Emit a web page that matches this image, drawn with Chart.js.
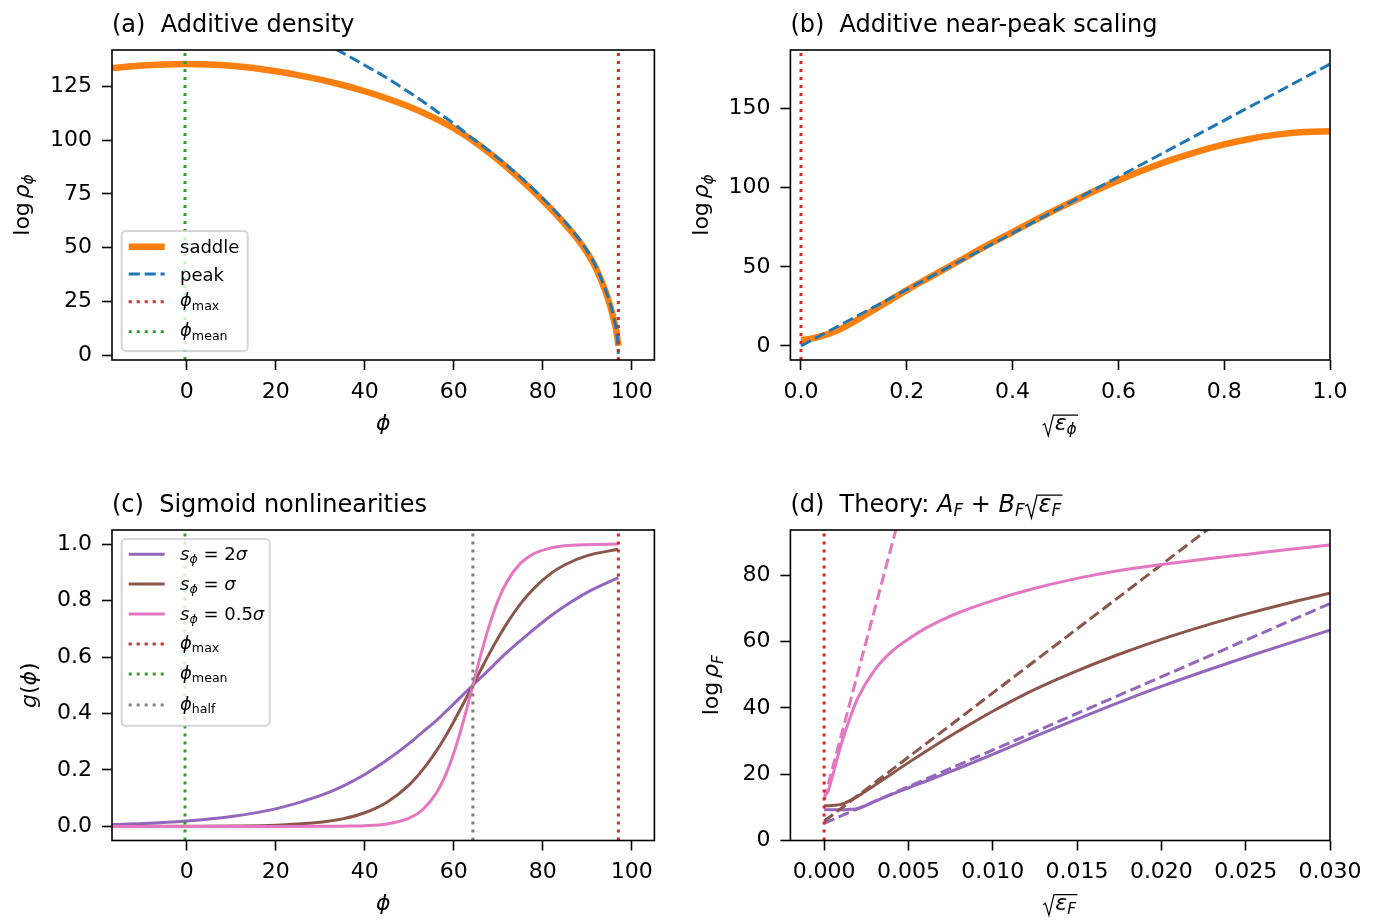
<!DOCTYPE html>
<html>
<head>
<meta charset="utf-8">
<title>Additive density and sigmoid theory</title>
<script src="https://cdn.jsdelivr.net/npm/chart.js@4.4.0/dist/chart.umd.min.js"></script>
<style>
  html, body { margin: 0; padding: 0; background: #ffffff; }
  #fig { position: relative; width: 1375px; height: 920px; background: #ffffff; }
  #fig canvas { position: absolute; }
</style>
</head>
<body>
<div id="fig">
  <canvas id="panelA" width="687" height="460" style="left:0px;top:0px;"></canvas>
  <canvas id="panelB" width="688" height="460" style="left:687px;top:0px;"></canvas>
  <canvas id="panelC" width="687" height="460" style="left:0px;top:460px;"></canvas>
  <canvas id="panelD" width="688" height="460" style="left:687px;top:460px;"></canvas>
</div>
<script>
// ---------------- reference positions ----------------
const PHI_MAX = 97.0;
const PHI_MEAN = -0.4;
const PHI_HALF = 64.3;

// ---------------- (a) additive density vs phi ----------------
const phiSaddle = [-16.8, -10, -5, 0, 5, 10, 15, 20, 25, 30, 35, 40, 45, 50, 55, 60, 65, 70, 75, 80, 85, 88, 90, 92, 94, 95, 96, 96.6, 97];
const logRhoSaddle = [133.6, 134.8, 135.3, 135.5, 135.3, 134.7, 133.6, 132.1, 130.3, 128.2, 125.7, 122.8, 119.4, 115.6, 111.0, 105.6, 98.8, 90.8, 81.8, 72.0, 61.0, 53.5, 47.6, 40.2, 30.2, 24.0, 16.2, 10.5, 4.3];
const phiPeak = [33.5, 36, 40, 44, 48, 52, 56, 60, 64, 68, 72, 76, 80, 84, 87, 90, 92, 94, 95, 96, 96.5, 96.8, 97];
const logRhoPeak = [142.4, 139.6, 134.9, 130.2, 125.0, 119.5, 113.7, 107.7, 101.2, 95.0, 88.2, 80.9, 73.0, 64.3, 57.1, 48.5, 41.0, 31.0, 25.0, 17.2, 12.2, 7.6, 0.5];

// ---------------- (b) near-peak scaling vs sqrt(eps_phi) ----------------
const sqrtEpsPhi = [0, 0.02, 0.04, 0.06, 0.08, 0.10, 0.15, 0.20, 0.25, 0.30, 0.35, 0.40, 0.45, 0.50, 0.55, 0.60, 0.65, 0.70, 0.75, 0.80, 0.85, 0.90, 0.95, 1.00];
const logRhoSaddleEps = [3.9, 4.6, 6.3, 8.6, 11.6, 15.3, 25.2, 35.3, 44.6, 53.9, 63.2, 72.0, 80.8, 89.2, 97.2, 104.6, 111.5, 117.6, 122.9, 127.4, 131.0, 133.6, 135.2, 135.7];
const sqrtEpsPeak = [0, 1.0];
const logRhoPeakEps = [0, 178.2];

// ---------------- (c) sigmoid nonlinearities ----------------
const phiSigmoid = [-16.8, -10, 0, 10, 20, 30, 35, 40, 45, 50, 53, 56, 58, 60, 62, 64.3, 66, 68, 70, 72, 75, 78, 82, 85, 90, 97];
const gWide  = [0.007, 0.010, 0.019, 0.035, 0.062, 0.109, 0.142, 0.184, 0.235, 0.294, 0.334, 0.374, 0.404, 0.434, 0.465, 0.500, 0.526, 0.556, 0.587, 0.617, 0.658, 0.698, 0.748, 0.781, 0.829, 0.881];
const gMid   = [0.000, 0.0001, 0.0004, 0.0013, 0.0043, 0.0146, 0.0267, 0.0483, 0.0856, 0.147, 0.200, 0.265, 0.315, 0.371, 0.430, 0.500, 0.552, 0.612, 0.668, 0.720, 0.788, 0.843, 0.898, 0.927, 0.959, 0.982];
const gSharp = [0.000, 0.000, 0.000, 0.000, 0.000, 0.0002, 0.0008, 0.0026, 0.0088, 0.029, 0.059, 0.116, 0.176, 0.259, 0.363, 0.500, 0.603, 0.712, 0.802, 0.868, 0.932, 0.966, 0.987, 0.994, 0.998, 1.000];

// ---------------- (d) theory vs sqrt(eps_F) ----------------
const sqrtEpsF = [0, 0.0002, 0.0005, 0.001, 0.0015, 0.002, 0.003, 0.004, 0.005, 0.006, 0.007, 0.008, 0.010, 0.0125, 0.015, 0.0175, 0.020, 0.0225, 0.025, 0.0275, 0.030];
const logRhoFWide  = [9.3, 9.3, 9.3, 9.3, 9.4, 9.6, 11.8, 13.9, 15.9, 17.8, 19.8, 21.8, 26.0, 31.4, 36.6, 41.7, 46.5, 51.0, 55.3, 59.4, 63.5];
const logRhoFMid   = [10.5, 10.5, 10.6, 10.9, 12.0, 13.4, 16.7, 20.1, 23.5, 26.8, 30.0, 33.1, 39.0, 45.6, 51.2, 56.2, 60.7, 64.7, 68.3, 71.6, 74.6];
const logRhoFSharp = [13.6, 14.5, 19.5, 28.8, 36.5, 43.0, 51.5, 57.0, 60.8, 64.0, 66.6, 68.8, 72.4, 76.1, 79.1, 81.5, 83.3, 84.9, 86.3, 87.8, 89.2];
const theoryWideX  = [0, 0.030];
const theoryWideY  = [5.2, 71.5];
const theoryMidX   = [0, 0.024];
const theoryMidY   = [5.8, 98.7];
const theorySharpX = [0, 0.0045];
const theorySharpY = [12.3, 98.5];

// ---------------- tick values and labels ----------------
const TICKS_PHI = [0, 20, 40, 60, 80, 100];
const LABELS_PHI = ['0', '20', '40', '60', '80', '100'];
const TICKS_A_Y = [0, 25, 50, 75, 100, 125];
const LABELS_A_Y = ['0', '25', '50', '75', '100', '125'];
const TICKS_B_X = [0, 0.2, 0.4, 0.6, 0.8, 1.0];
const LABELS_B_X = ['0.0', '0.2', '0.4', '0.6', '0.8', '1.0'];
const TICKS_B_Y = [0, 50, 100, 150];
const LABELS_B_Y = ['0', '50', '100', '150'];
const TICKS_C_Y = [0, 0.2, 0.4, 0.6, 0.8, 1.0];
const LABELS_C_Y = ['0.0', '0.2', '0.4', '0.6', '0.8', '1.0'];
const TICKS_D_X = [0, 0.005, 0.010, 0.015, 0.020, 0.025, 0.030];
const LABELS_D_X = ['0.000', '0.005', '0.010', '0.015', '0.020', '0.025', '0.030'];
const TICKS_D_Y = [0, 20, 40, 60, 80];
const LABELS_D_Y = ['0', '20', '40', '60', '80'];

// ---------------- styling ----------------
const FAMILY = '"DejaVu Sans", "Liberation Sans", sans-serif';
const C_ORANGE = '#ff7f0e', C_BLUE = '#1f77b4', C_RED = '#d62728', C_GREEN = '#2ca02c';
const C_PURPLE = '#9467bd', C_BROWN = '#8c564b', C_PINK = '#e377c2', C_GREY = '#7f7f7f';
const DASHED = [11.1, 4.8];
const DOTTED = [3, 5];

// ---------------- mixed-style text (roman / italic / subscript / radical) ----------------
function runText(c, segs, size, draw, x, y) {
  let cx = x;
  for (const s of segs) {
    if (s.sp !== undefined) { cx += s.sp * size; continue; }
    if (s.sqrt) {
      const innerW = runText(c, s.sqrt, size, false, 0, 0);
      const rw = 0.58 * size;
      if (draw) {
        const top = y - 0.68 * size, bot = y + 0.27 * size;
        c.save();
        c.beginPath();
        c.moveTo(cx + 0.03 * size, y - 0.22 * size);
        c.lineTo(cx + 0.13 * size, y - 0.29 * size);
        c.lineTo(cx + 0.29 * size, bot);
        c.lineTo(cx + 0.52 * size, top);
        c.lineTo(cx + rw + innerW + 0.06 * size, top);
        c.lineWidth = 0.055 * size;
        c.setLineDash([]);
        c.lineJoin = 'miter';
        c.strokeStyle = '#000';
        c.stroke();
        c.restore();
        runText(c, s.sqrt, size, true, cx + rw, y);
      }
      cx += rw + innerW + 0.08 * size;
      continue;
    }
    const sz = s.sub ? 0.7 * size : size;
    c.font = (s.it ? 'italic ' : '') + sz + 'px ' + FAMILY;
    const w = c.measureText(s.t).width;
    if (draw) c.fillText(s.t, cx, y + (s.sub ? 0.2 * size : 0));
    cx += w;
  }
  return cx - x;
}
function drawRich(c, segs, x, y, size, align) {
  c.textAlign = 'left';
  c.textBaseline = 'alphabetic';
  c.fillStyle = '#000';
  const w = runText(c, segs, size, false, 0, 0);
  const x0 = align === 'center' ? x - w / 2 : x;
  runText(c, segs, size, true, x0, y);
}

function drawLegend(c, A, L) {
  const x0 = A.left + L.dx, y0 = A.top + L.dy, r = 4;
  c.save();
  c.beginPath();
  c.moveTo(x0 + r, y0);
  c.arcTo(x0 + L.w, y0, x0 + L.w, y0 + L.h, r);
  c.arcTo(x0 + L.w, y0 + L.h, x0, y0 + L.h, r);
  c.arcTo(x0, y0 + L.h, x0, y0, r);
  c.arcTo(x0, y0, x0 + L.w, y0, r);
  c.closePath();
  c.fillStyle = 'rgba(255,255,255,0.8)';
  c.fill();
  c.lineWidth = 2;
  c.strokeStyle = 'rgba(204,204,204,0.8)';
  c.stroke();
  L.items.forEach((e, i) => {
    const ry = y0 + L.rows[i];
    c.beginPath();
    c.setLineDash(e.dash || []);
    c.lineDashOffset = 0;
    c.lineCap = 'butt';
    c.lineWidth = e.width;
    c.strokeStyle = e.color;
    c.moveTo(x0 + 7, ry);
    c.lineTo(x0 + 43, ry);
    c.stroke();
    c.setLineDash([]);
    drawRich(c, e.label, x0 + 58.3, ry + e.dy, 18, 'left');
  });
  c.restore();
}

function decorPlugin(cfg) {
  return {
    id: 'decor',
    afterDraw(chart) {
      const c = chart.ctx, A = chart.chartArea;
      c.save();
      c.setLineDash([]);
      c.strokeStyle = '#000';
      c.lineWidth = 1.6;
      c.strokeRect(A.left, A.top, A.right - A.left, A.bottom - A.top);
      drawRich(c, cfg.title, A.left, A.top - 18.5, 24, 'left');
      drawRich(c, cfg.xLabel, (A.left + A.right) / 2, A.bottom + cfg.xLabelOff, 22, 'center');
      c.save();
      c.translate(A.left + cfg.yLabelOff, (A.top + A.bottom) / 2);
      c.rotate(-Math.PI / 2);
      drawRich(c, cfg.yLabel, 0, 0, 22, 'center');
      c.restore();
      if (cfg.legend) drawLegend(c, A, cfg.legend);
      c.restore();
    }
  };
}

function series(xs, ys, color, width, dash, smooth) {
  return {
    data: xs.map((x, i) => ({ x: x, y: ys[i] })),
    borderColor: color,
    backgroundColor: color,
    borderWidth: width,
    borderDash: dash || [],
    borderCapStyle: 'butt',
    showLine: true,
    pointRadius: 0,
    pointHoverRadius: 0,
    fill: false,
    clip: 0,
    tension: 0,
    cubicInterpolationMode: smooth ? 'monotone' : 'default'
  };
}
function vline(x, range, color) {
  return series([x, x], [range[0], range[1]], color, 3, DOTTED, false);
}

function axis(which, a) {
  return {
    type: 'linear',
    position: which === 'x' ? 'bottom' : 'left',
    min: a.range[0],
    max: a.range[1],
    grid: { display: true, drawOnChartArea: false, drawTicks: true, tickLength: 10, tickWidth: 1.6, tickColor: '#000', color: '#000' },
    border: { display: false },
    ticks: {
      font: { family: FAMILY, size: 22 },
      color: '#000',
      padding: which === 'x' ? 9 : 10,
      autoSkip: false,
      maxRotation: 0,
      minRotation: 0,
      callback: (v, i) => a.labels[i]
    },
    afterBuildTicks: s => { s.ticks = a.ticks.map(v => ({ value: v })); },
    afterFit: s => { if (which === 'x') s.height = a.size; else s.width = a.size; }
  };
}

function panel(id, cfg) {
  // datasets listed bottom-to-top; Chart.js paints higher "order" first
  const n = cfg.datasets.length;
  const ds = cfg.datasets.map((d, i) => Object.assign(d, { order: n - i }));
  return new Chart(document.getElementById(id), {
    type: 'scatter',
    data: { datasets: ds },
    options: {
      responsive: false,
      animation: false,
      events: [],
      layout: { padding: cfg.pad },
      plugins: { legend: { display: false }, tooltip: { enabled: false }, title: { display: false } },
      scales: { x: axis('x', cfg.x), y: axis('y', cfg.y) }
    },
    plugins: [decorPlugin(cfg)]
  });
}

// ---------------- text pieces ----------------
const PHI_IT = { t: 'ϕ', it: true };
const LOG_RHO_PHI = [{ t: 'log' }, { sp: 0.17 }, { t: 'ρ', it: true }, { t: 'ϕ', it: true, sub: true }];
const LEG_MAX = [PHI_IT, { t: 'max', sub: true }];
const LEG_MEAN = [PHI_IT, { t: 'mean', sub: true }];
const LEG_HALF = [PHI_IT, { t: 'half', sub: true }];
const S_PHI = [{ t: 's', it: true }, { t: 'ϕ', it: true, sub: true }, { t: ' = ' }];

// ---------------- panels ----------------
const A_X = [-16.8, 105.1], A_Y = [-2.3, 142.0];
panel('panelA', {
  pad: { top: 50, right: 32.6, bottom: 0, left: 0 },
  x: { range: A_X, ticks: TICKS_PHI, labels: LABELS_PHI, size: 100 },
  y: { range: A_Y, ticks: TICKS_A_Y, labels: LABELS_A_Y, size: 112 },
  datasets: [
    series(phiSaddle, logRhoSaddle, C_ORANGE, 6.5, null, true),
    series(phiPeak, logRhoPeak, C_BLUE, 3, DASHED, true),
    vline(PHI_MAX, A_Y, C_RED),
    vline(PHI_MEAN, A_Y, C_GREEN)
  ],
  title: [{ t: '(a)  Additive density' }],
  xLabel: [PHI_IT], xLabelOff: 70,
  yLabel: LOG_RHO_PHI, yLabelOff: -83,
  legend: {
    dx: 9.7, dy: 181, w: 126, h: 120, rows: [15.7, 43, 70.7, 100.7],
    items: [
      { color: C_ORANGE, width: 6.5, label: [{ t: 'saddle' }], dy: 6.5 },
      { color: C_BLUE, width: 3, dash: DASHED, label: [{ t: 'peak' }], dy: 6.5 },
      { color: C_RED, width: 3, dash: DOTTED, label: LEG_MAX, dy: 4.5 },
      { color: C_GREEN, width: 3, dash: DOTTED, label: LEG_MEAN, dy: 4.5 }
    ]
  }
});

const B_X = [-0.02, 1.0], B_Y = [-8.9, 187.1];
panel('panelB', {
  pad: { top: 50, right: 45, bottom: 0, left: 0 },
  x: { range: B_X, ticks: TICKS_B_X, labels: LABELS_B_X, size: 100 },
  y: { range: B_Y, ticks: TICKS_B_Y, labels: LABELS_B_Y, size: 103.4 },
  datasets: [
    series(sqrtEpsPhi, logRhoSaddleEps, C_ORANGE, 6.5, null, true),
    series(sqrtEpsPeak, logRhoPeakEps, C_BLUE, 3, DASHED, false),
    vline(0, B_Y, C_RED)
  ],
  title: [{ t: '(b)  Additive near-peak scaling' }],
  xLabel: [{ sqrt: [{ t: 'ε', it: true }, { t: 'ϕ', it: true, sub: true }] }], xLabelOff: 70,
  yLabel: LOG_RHO_PHI, yLabelOff: -82
});

const C_X = [-16.8, 105.1], C_Y = [-0.05, 1.05];
panel('panelC', {
  pad: { top: 70, right: 32.6, bottom: 0, left: 0 },
  x: { range: C_X, ticks: TICKS_PHI, labels: LABELS_PHI, size: 79.5 },
  y: { range: C_Y, ticks: TICKS_C_Y, labels: LABELS_C_Y, size: 112 },
  datasets: [
    series(phiSigmoid, gWide, C_PURPLE, 3, null, true),
    series(phiSigmoid, gMid, C_BROWN, 3, null, true),
    series(phiSigmoid, gSharp, C_PINK, 3, null, true),
    vline(PHI_MAX, C_Y, C_RED),
    vline(PHI_MEAN, C_Y, C_GREEN),
    vline(PHI_HALF, C_Y, C_GREY)
  ],
  title: [{ t: '(c)  Sigmoid nonlinearities' }],
  xLabel: [PHI_IT], xLabelOff: 69,
  yLabel: [{ t: 'g', it: true }, { t: '(' }, PHI_IT, { t: ')' }], yLabelOff: -75.6,
  legend: {
    dx: 9.7, dy: 9, w: 148, h: 186.7, rows: [15.3, 45, 75, 105, 135, 166],
    items: [
      { color: C_PURPLE, width: 3, label: S_PHI.concat([{ t: '2' }, { t: 'σ', it: true }]), dy: 5.5 },
      { color: C_BROWN, width: 3, label: S_PHI.concat([{ t: 'σ', it: true }]), dy: 5.5 },
      { color: C_PINK, width: 3, label: S_PHI.concat([{ t: '0.5' }, { t: 'σ', it: true }]), dy: 5.5 },
      { color: C_RED, width: 3, dash: DOTTED, label: LEG_MAX, dy: 4.5 },
      { color: C_GREEN, width: 3, dash: DOTTED, label: LEG_MEAN, dy: 4.5 },
      { color: C_GREY, width: 3, dash: DOTTED, label: LEG_HALF, dy: 4.5 }
    ]
  }
});

const D_X = [-0.002, 0.030], D_Y = [0, 93.7];
panel('panelD', {
  pad: { top: 70, right: 45, bottom: 0, left: 0 },
  x: { range: D_X, ticks: TICKS_D_X, labels: LABELS_D_X, size: 79.5 },
  y: { range: D_Y, ticks: TICKS_D_Y, labels: LABELS_D_Y, size: 103.4 },
  datasets: [
    series(sqrtEpsF, logRhoFWide, C_PURPLE, 3, null, true),
    series(theoryWideX, theoryWideY, C_PURPLE, 3, DASHED, false),
    series(sqrtEpsF, logRhoFMid, C_BROWN, 3, null, true),
    series(theoryMidX, theoryMidY, C_BROWN, 3, DASHED, false),
    series(sqrtEpsF, logRhoFSharp, C_PINK, 3, null, true),
    series(theorySharpX, theorySharpY, C_PINK, 3, DASHED, false),
    vline(0, D_Y, C_RED)
  ],
  title: [{ t: '(d)  Theory: ' }, { t: 'A', it: true }, { t: 'F', it: true, sub: true }, { t: ' + ' },
          { t: 'B', it: true }, { t: 'F', it: true, sub: true },
          { sqrt: [{ t: 'ε', it: true }, { t: 'F', it: true, sub: true }] }],
  xLabel: [{ sqrt: [{ t: 'ε', it: true }, { t: 'F', it: true, sub: true }] }], xLabelOff: 69,
  yLabel: [{ t: 'log' }, { sp: 0.17 }, { t: 'ρ', it: true }, { t: 'F', it: true, sub: true }], yLabelOff: -72
});
</script>
</body>
</html>
